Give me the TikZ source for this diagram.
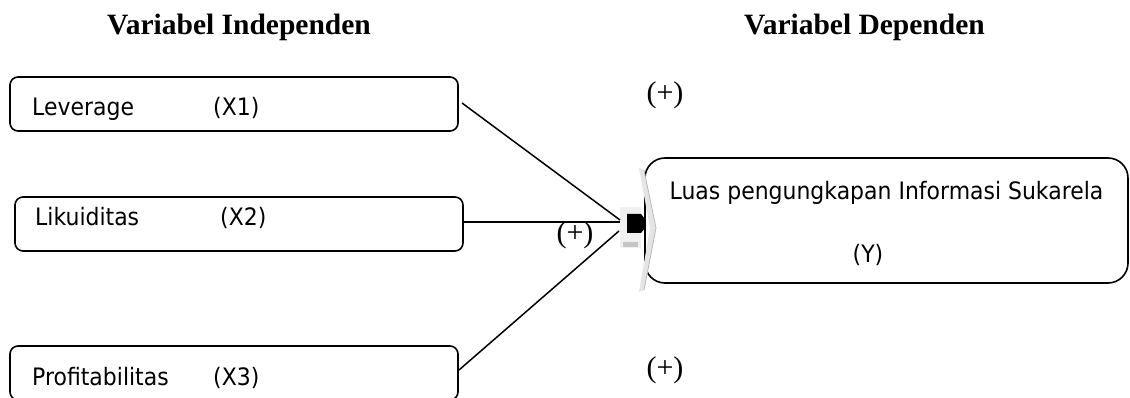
\documentclass[tikz,border=0pt]{standalone}
\usepackage{fontspec}
\setmainfont{Liberation Serif}
\newfontfamily\boxfont[FakeStretch=0.915]{DejaVu Sans}
\begin{document}
\begin{tikzpicture}[x=1pt,y=-1pt,
  varbox/.style={draw=black,line width=1.6pt,rounded corners=8pt,minimum width=448pt,minimum height=54pt,inner sep=0pt},
  ybox/.style={draw=black,line width=1.6pt,rounded corners=20pt,minimum width=483pt,minimum height=125pt,inner sep=0pt},
  btxt/.style={font=\boxfont\fontsize{24}{28}\selectfont,anchor=base west,inner sep=0pt},
  ttl/.style={font=\bfseries\fontsize{29.5}{34}\selectfont,anchor=base,inner sep=0pt},
  sign/.style={font=\fontsize{30}{32}\selectfont,inner sep=0pt},
  conn/.style={line width=1.5pt}]
\useasboundingbox (0,0) rectangle (1130,398);
\clip (0,0) rectangle (1130,398);
% titles
\node[ttl,anchor=base west] (t1) at (107,35) {Variabel Independen};
\node[ttl,anchor=base east] (t2) at (985,35) {Variabel Dependen};
% boxes
\node[varbox] (b1) at (234,104) {};
\node[varbox] (b2) at (239,224) {};
\node[varbox] (b3) at (234,373) {};
\node[ybox] (by) at (886.5,220.5) {};
% texts
\node[btxt] (l1) at (32,116) {Leverage};
\node[btxt] (x1) at (213,116) {(X1)};
\node[btxt] (l2) at (35,226) {Likuiditas};
\node[btxt] (x2) at (220,226) {(X2)};
\node[btxt] (l3) at (32,385) {Profitabilitas};
\node[btxt] (x3) at (213,385) {(X3)};
\node[btxt,anchor=base] (ly) at (886.5,200) {Luas pengungkapan Informasi Sukarela};
\node[btxt,anchor=base] (yy) at (868,262) {(Y)};
% connector symbol
\fill[gray!12] (620,207) rectangle (641,248);
\fill[gray!20] (639,168) -- (644,170) -- (656,228) -- (644,290) -- (639,292) -- (650,228) -- cycle;
\draw[gray!55,line width=0.8pt] (644,170) -- (656,228) -- (644,290);
\fill[black] (627,214) -- (641,214) -- (645,219) -- (645,228) -- (641,233) -- (627,233) -- cycle;
\fill[gray!45] (623,242) rectangle (638,247);
\coordinate (e1) at (620,220);
\coordinate (e2) at (620,222);
\coordinate (e3) at (619,231);
\coordinate (s1) at (462,103);
\coordinate (s3) at (459,370);
% connectors
\draw[conn] (s1) -- (e1);
\draw[conn] (b2.east |- e2) -- (e2);
\draw[conn] (s3) -- (e3);
% signs
\node[sign] (p1) at (665,95) {(+)};
\node[sign] (p2) at (575,235) {(+)};
\node[sign] (p3) at (665,370) {(+)};
\end{tikzpicture}
\end{document}
